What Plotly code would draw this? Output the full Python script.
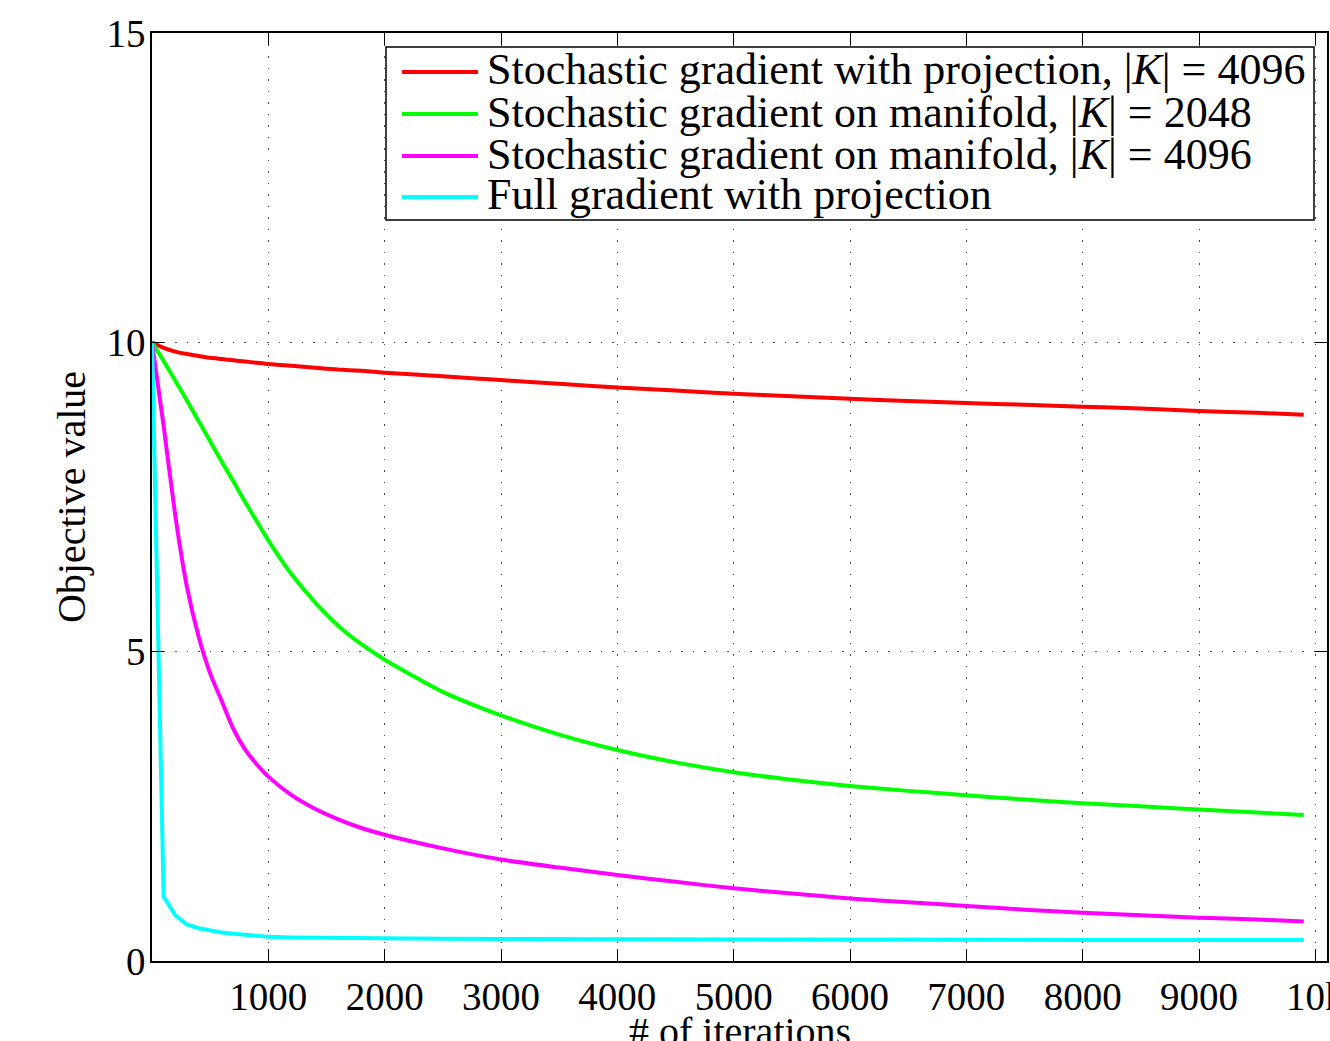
import plotly.graph_objects as go

# ---- data ----
iterations = [0, 100, 200, 300, 400, 500, 600, 700, 800, 900, 1000, 1200, 1400, 1600,
              1800, 2000, 2500, 3000, 3500, 4000, 4500, 5000, 5500, 6000, 6500, 7000,
              7500, 8000, 8500, 9000, 9500, 9900]

sg_projection_4096 = [10.0, 9.91, 9.85, 9.81, 9.78, 9.75, 9.73, 9.71, 9.69, 9.67, 9.65, 9.62,
                      9.59, 9.56, 9.54, 9.51, 9.45, 9.39, 9.33, 9.27, 9.22, 9.17, 9.13, 9.09,
                      9.05, 9.02, 8.99, 8.96, 8.93, 8.89, 8.86, 8.83]

sg_manifold_2048 = [10.0, 9.70, 9.38, 9.06, 8.73, 8.40, 8.07, 7.75, 7.42, 7.11, 6.80, 6.25,
                    5.80, 5.42, 5.12, 4.87, 4.35, 3.97, 3.66, 3.41, 3.21, 3.05, 2.93, 2.83,
                    2.75, 2.68, 2.61, 2.55, 2.50, 2.45, 2.40, 2.36]

sg_manifold_4096 = [10.0, 8.65, 7.20, 6.05, 5.25, 4.65, 4.20, 3.75, 3.42, 3.18, 2.98, 2.68,
                    2.46, 2.29, 2.15, 2.04, 1.82, 1.64, 1.51, 1.39, 1.28, 1.175, 1.09, 1.01,
                    0.95, 0.89, 0.83, 0.78, 0.74, 0.70, 0.67, 0.64]

full_gradient_projection = [10.0, 1.04, 0.74, 0.59, 0.53, 0.49, 0.46, 0.44, 0.42, 0.40, 0.39,
                            0.38, 0.375, 0.37, 0.37, 0.365, 0.36, 0.355, 0.352, 0.35, 0.348,
                            0.346, 0.345, 0.344, 0.343, 0.342, 0.341, 0.34, 0.34, 0.34, 0.34, 0.34]

series_names = [
    "Stochastic gradient with projection, |<i>K</i>| = 4096",
    "Stochastic gradient on manifold, |<i>K</i>| = 2048",
    "Stochastic gradient on manifold, |<i>K</i>| = 4096",
    "Full gradient with projection",
]
series_values = [sg_projection_4096, sg_manifold_2048, sg_manifold_4096, full_gradient_projection]
series_colors = ["#FF0000", "#00FF00", "#FF00FF", "#00FFFF"]
series_shapes = ["spline", "spline", "spline", "linear"]

x_tick_values = [1000, 2000, 3000, 4000, 5000, 6000, 7000, 8000, 9000, 10000]
y_tick_values = [0, 5, 10, 15]
x_title = "# of iterations"
y_title = "Objective value"

# ---- layout geometry ----
W, H = 1330, 1041
L, R, T, B = 152, 1327, 33, 961
FONT = "Liberation Serif, Times New Roman, serif"


def px_x(p):
    return (p - L) / (R - L)


def px_y(p):
    return (B - p) / (B - T)


fig = go.Figure()
for name, vals, col, shp in zip(series_names, series_values, series_colors, series_shapes):
    fig.add_trace(go.Scatter(x=iterations, y=vals, mode="lines", name=name,
                             line=dict(color=col, width=4, shape=shp, smoothing=0.6),
                             showlegend=False))

grid_dash = "1.5px,10px"
fig.update_layout(
    width=W, height=H,
    margin=dict(l=L, r=W - R, t=T, b=H - B, pad=0),
    paper_bgcolor="white", plot_bgcolor="white",
    font=dict(family=FONT, size=40, color="black"),
    xaxis=dict(range=[0, 10100], tickvals=x_tick_values, ticks="inside", ticklen=12,
               tickwidth=1.2, tickcolor="black", showline=True, linecolor="black",
               linewidth=1.5, mirror="ticks", showgrid=True, gridcolor="#444",
               griddash=grid_dash, gridwidth=1, zeroline=False, automargin=False,
               ticklabeloverflow="allow",
               tickfont=dict(size=39), ticklabelstandoff=0),
    yaxis=dict(range=[0, 15], tickvals=y_tick_values, ticks="inside", ticklen=12,
               tickwidth=1.2, tickcolor="black", showline=True, linecolor="black",
               linewidth=1.5, mirror="ticks", showgrid=True, gridcolor="#444",
               griddash=grid_dash, gridwidth=1, zeroline=False, automargin=False,
               ticklabeloverflow="allow",
               tickfont=dict(size=39), ticklabelstandoff=-3,
               title=dict(text=y_title, font=dict(size=40), standoff=8)),
)

# x-axis title (partly below the bottom edge, as in the reference)
fig.add_annotation(xref="paper", yref="paper", x=0.5, y=px_y(1007),
                   xanchor="center", yanchor="top", text=x_title, showarrow=False,
                   font=dict(family=FONT, size=40, color="black"))

# ---- legend drawn in paper coordinates ----
box_l, box_r, box_t, box_b = 386, 1314, 47, 220
fig.add_shape(type="rect", xref="paper", yref="paper",
              x0=px_x(box_l), x1=px_x(box_r), y0=px_y(box_b), y1=px_y(box_t),
              line=dict(color="black", width=1.5), fillcolor="white", layer="above")
row_y = [72, 114, 156, 197]
for name, col, ry in zip(series_names, series_colors, row_y):
    fig.add_shape(type="line", xref="paper", yref="paper",
                  x0=px_x(402), x1=px_x(478), y0=px_y(ry), y1=px_y(ry),
                  line=dict(color=col, width=4), layer="above")
    fig.add_annotation(xref="paper", yref="paper", x=px_x(485), y=px_y(ry - 2),
                       xanchor="left", yanchor="middle", text=name, showarrow=False,
                       font=dict(family=FONT, size=44, color="black"))

fig.write_html("out.html")
